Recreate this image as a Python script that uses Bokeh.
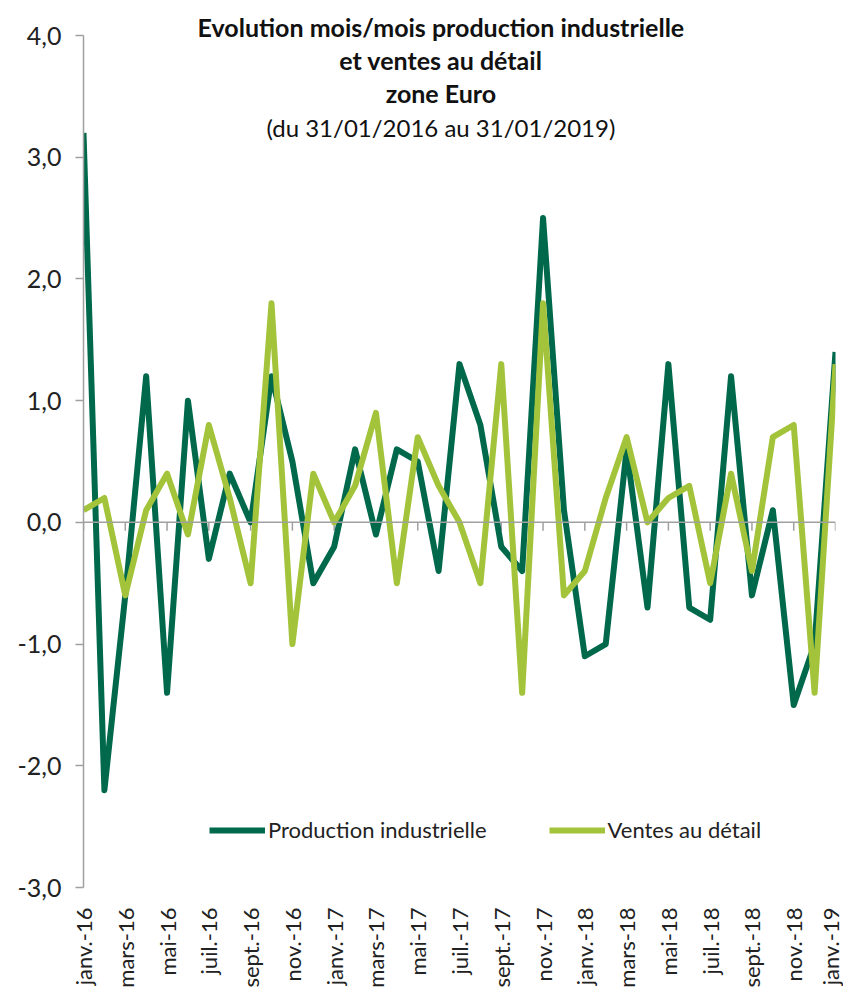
from bokeh.plotting import figure
from bokeh.models import (ColumnDataSource, FixedTicker, Span, Label, Legend, LegendItem)
from bokeh.embed import file_html
from bokeh.resources import INLINE
import math

# ---- data ----
months = [
    "janv.-16", "févr.-16", "mars-16", "avr.-16", "mai-16", "juin-16",
    "juil.-16", "août-16", "sept.-16", "oct.-16", "nov.-16", "déc.-16",
    "janv.-17", "févr.-17", "mars-17", "avr.-17", "mai-17", "juin-17",
    "juil.-17", "août-17", "sept.-17", "oct.-17", "nov.-17", "déc.-17",
    "janv.-18", "févr.-18", "mars-18", "avr.-18", "mai-18", "juin-18",
    "juil.-18", "août-18", "sept.-18", "oct.-18", "nov.-18", "déc.-18",
    "janv.-19",
]
production = [3.2, -2.2, -0.6, 1.2, -1.4, 1.0, -0.3, 0.4, 0.0, 1.2, 0.5, -0.5,
              -0.2, 0.6, -0.1, 0.6, 0.5, -0.4, 1.3, 0.8, -0.2, -0.4, 2.5, 0.1,
              -1.1, -1.0, 0.6, -0.7, 1.3, -0.7, -0.8, 1.2, -0.6, 0.1, -1.5, -1.0, 1.4]
ventes = [0.1, 0.2, -0.6, 0.1, 0.4, -0.1, 0.8, 0.2, -0.5, 1.8, -1.0, 0.4,
          0.0, 0.3, 0.9, -0.5, 0.7, 0.3, 0.0, -0.5, 1.3, -1.4, 1.8, -0.6,
          -0.4, 0.2, 0.7, 0.0, 0.2, 0.3, -0.5, 0.4, -0.4, 0.7, 0.8, -1.4, 1.3]
y_ticks = [-3, -2, -1, 0, 1, 2, 3, 4]
y_tick_labels = ["-3,0", "-2,0", "-1,0", "0,0", "1,0", "2,0", "3,0", "4,0"]
title_lines = ["Evolution mois/mois production industrielle",
               "et ventes au détail",
               "zone Euro",
               "(du 31/01/2016 au 31/01/2019)"]
series_names = ["Production industrielle", "Ventes au détail"]

DARK = "#00694B"
LIGHT = "#A3C43A"
GREY = "#A0A0A0"
FONT = "Lato"

idx = list(range(len(months)))
src = ColumnDataSource(dict(x=idx, prod=production, ventes=ventes))
x_ticks = idx[::2]

Y_MIN, Y_MAX = -3, 4
y_pad_top = 20 / 121.7   # room above the 4,0 tick for the title's first line

p = figure(frame_width=752, frame_height=872, width=843, height=992,
           min_border_left=83, min_border_right=8, min_border_top=15,
           min_border_bottom=105,
           x_range=(0, len(months) - 1), y_range=(Y_MIN, Y_MAX + y_pad_top),
           output_backend="svg", toolbar_location=None)
p.background_fill_color = "white"
p.border_fill_color = "white"
p.outline_line_color = None
p.grid.visible = False

# y axis
ya = p.yaxis[0]
ya.ticker = FixedTicker(ticks=y_ticks)
ya.bounds = (Y_MIN, Y_MAX)
ya.major_label_overrides = {t: l for t, l in zip(y_ticks, y_tick_labels)}
ya.axis_line_color = GREY
ya.axis_line_width = 1.5
ya.major_tick_line_color = GREY
ya.major_tick_line_width = 1.5
ya.major_tick_out = 8
ya.major_tick_in = 0
ya.minor_tick_line_color = None
ya.major_label_text_font = FONT
ya.major_label_text_font_size = "25px"
ya.major_label_text_color = "#222222"
ya.major_label_standoff = 14

# x axis (labels only, at bottom)
xa = p.xaxis[0]
xa.ticker = FixedTicker(ticks=x_ticks)
xa.major_label_overrides = {i: months[i] for i in x_ticks}
xa.major_label_orientation = math.pi / 2
xa.axis_line_color = None
xa.major_tick_line_color = None
xa.minor_tick_line_color = None
xa.major_label_text_font = FONT
xa.major_label_text_font_size = "22px"
xa.major_label_text_color = "#222222"
xa.major_label_standoff = 14

# category axis line crossing at zero with downward ticks
p.add_layout(Span(location=0, dimension="width", line_color=GREY, line_width=1.5))
p.segment(x0=x_ticks, y0=[0] * len(x_ticks), x1=x_ticks, y1=[-0.068] * len(x_ticks),
          line_color=GREY, line_width=1.5)

r1 = p.line("x", "prod", source=src, line_color=DARK, line_width=6, line_join="round")
r2 = p.line("x", "ventes", source=src, line_color=LIGHT, line_width=6, line_join="round")

legend = Legend(items=[LegendItem(label=series_names[0], renderers=[r1]),
                       LegendItem(label=series_names[1], renderers=[r2])],
                orientation="horizontal", location=(126, 44),
                label_text_font=FONT, label_text_font_size="22px",
                label_text_color="#222222",
                glyph_width=56, glyph_height=22, label_standoff=3,
                spacing=62, padding=0, margin=0,
                border_line_color=None, background_fill_alpha=0)
p.add_layout(legend)

# title block inside the chart
title_x = 17.11
title_y = [4.066, 3.795, 3.531, 3.244]
title_sizes = ["25px", "25px", "25px", "24px"]
for i, (txt, ty) in enumerate(zip(title_lines, title_y)):
    p.add_layout(Label(x=title_x, y=ty, text=txt, text_align="center",
                       text_baseline="alphabetic", text_font=FONT,
                       text_font_size=title_sizes[i],
                       text_font_style="bold" if i < 3 else "normal",
                       text_color="#111111"))

open("out.html", "w").write(file_html(p, INLINE))
